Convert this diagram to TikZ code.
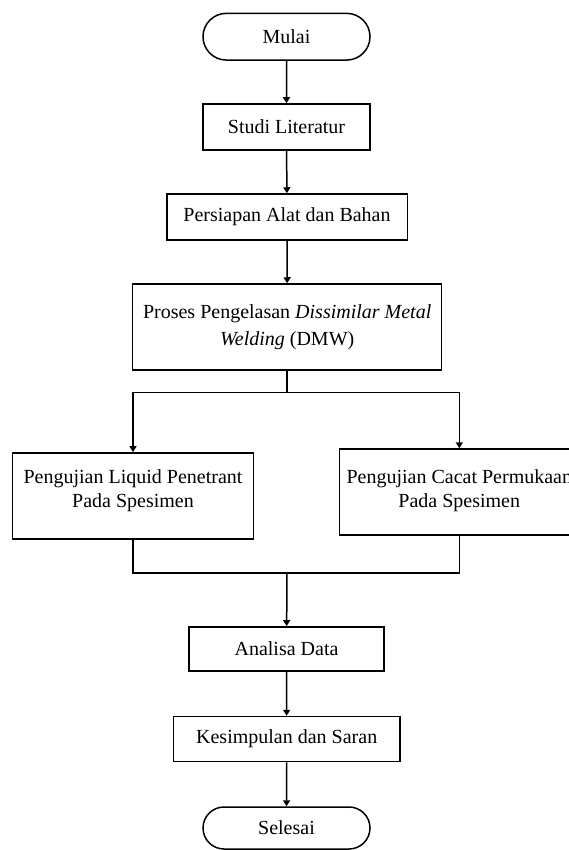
\documentclass[tikz,border=0pt]{standalone}
\usepackage{fontspec}
\setmainfont{Liberation Serif}
\usetikzlibrary{shapes.misc}
\usetikzlibrary{arrows.meta}
\tikzset{
    mybox/.style = {rectangle, line width=1.5pt, draw=black, align=center, fill=white, font=\fontsize{20}{24}\selectfont, text=black, inner sep=0pt},
    myterm/.style = {rounded rectangle, line width=1.5pt, draw=black, align=center, fill=white, font=\fontsize{20}{24}\selectfont, text=black, inner sep=0pt},
    edgen/.style = {-, line width=1.5pt, black},
    edgea/.style = {-{Triangle[length=6pt,width=7pt]}, line width=1.5pt, black}
}

\begin{document}
\begin{tikzpicture}[x=1pt,y=-1pt]
\path[use as bounding box] (0,0) rectangle (569,850);

%
\node[myterm, minimum width=167pt, minimum height=46.7pt] at (286.5,36.7) (mulai) {Mulai};
\node[mybox, minimum width=167pt, minimum height=46pt] at (286.5,127) (studi) {Studi Literatur};
\node[mybox, minimum width=240.5pt, minimum height=46pt] at (287,217) (persiapan) {Persiapan Alat dan Bahan};
\node[mybox, minimum width=309pt, minimum height=86pt] at (287.2,327) (proses) {Proses Pengelasan \textit{Dissimilar Metal}\\[3pt]\textit{Welding} (DMW)};
\node[mybox, minimum width=240.6pt, minimum height=86.3pt] at (133,496) (ujilp) {Pengujian Liquid Penetrant\\Pada Spesimen\\[-10pt]};
\node[mybox, minimum width=240pt, minimum height=86pt] at (459.3,492) (ujicacat) {Pengujian Cacat Permukaan\\Pada Spesimen\\[-18pt]};
\node[mybox, minimum width=195pt, minimum height=44.3pt] at (286.5,649) (analisa) {Analisa Data};
\node[mybox, minimum width=226.7pt, minimum height=45pt] at (286.7,739) (kesimpulan) {Kesimpulan dan Saran};
\node[myterm, minimum width=167pt, minimum height=42pt] at (286.5,828) (selesai) {Selesai};
%
\coordinate (pisah) at (287.2,392.7);
\coordinate (gabung) at (287,573);
%
\draw[edgea] (mulai) -- (studi);
\draw[edgea] (studi) -- (persiapan);
\draw[edgea] (persiapan) -- (proses);
\draw[edgen] (proses) -- (pisah);
\draw[edgea] (pisah) -| (ujilp);
\draw[edgea] (pisah) -| (ujicacat);
\draw[edgen] (ujilp) |- (gabung);
\draw[edgen] (ujicacat) |- (gabung);
\draw[edgea] (gabung) -- (analisa);
\draw[edgea] (analisa) -- (kesimpulan);
\draw[edgea] (kesimpulan) -- (selesai);

\end{tikzpicture}
\end{document}
